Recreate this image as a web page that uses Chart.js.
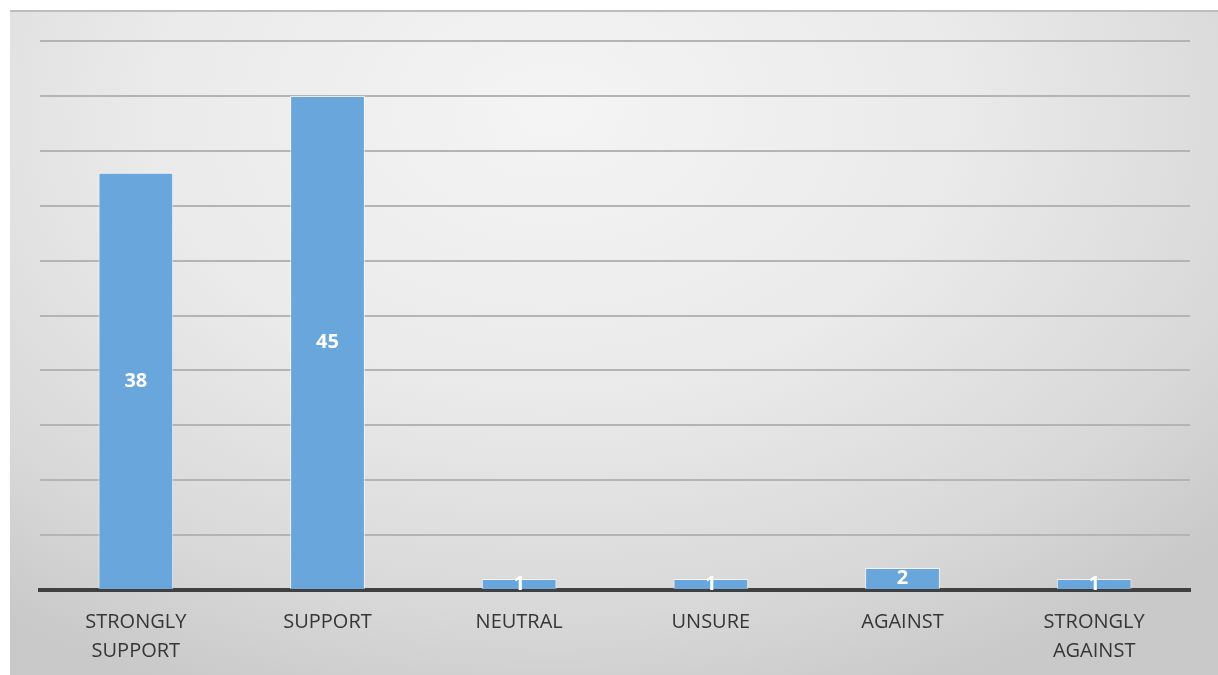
<!DOCTYPE html>
<html>
<head>
<meta charset="utf-8">
<script src="https://cdn.jsdelivr.net/npm/chart.js@4"></script>
<style>
  html, body { margin: 0; padding: 0; background: #fff; }
  #panel {
    position: absolute; left: 10px; top: 10px; width: 1208px; height: 665px; overflow: hidden;
    border-top: 2px solid #bdbdbd; box-sizing: border-box;
    background: radial-gradient(ellipse 75% 95% at 45% 15%, #f4f4f4 0%, #eaeaea 45%, #d8d8d8 80%, #c9c9c9 100%);
  }
  #panel canvas { position: absolute; left: 0; top: -2px; }
</style>
</head>
<body>
<div id="panel"><canvas id="chart" width="1208" height="672"></canvas></div>
<script>
/* survey responses */
var categories = [['STRONGLY', 'SUPPORT'], 'SUPPORT', 'NEUTRAL', 'UNSURE', 'AGAINST', ['STRONGLY', 'AGAINST']];
var counts = [38, 45, 1, 1, 2, 1];
var yMax = 50, yStep = 5;

/* value labels centred in each bar */
var centreLabels = {
  id: 'centreLabels',
  afterDatasetsDraw: function (chart) {
    var meta = chart.getDatasetMeta(0);
    var ctx = chart.ctx;
    ctx.save();
    ctx.fillStyle = '#ffffff';
    ctx.font = 'bold 20px "Open Sans", sans-serif';
    ctx.textAlign = 'center';
    ctx.textBaseline = 'middle';
    meta.data.forEach(function (bar, i) {
      ctx.fillText(String(counts[i]), bar.x, (bar.y + bar.base) / 2);
    });
    ctx.restore();
  }
};

Chart.defaults.font.family = '"Open Sans", sans-serif';

new Chart(document.getElementById('chart'), {
  type: 'bar',
  data: {
    labels: categories,
    datasets: [{
      data: counts,
      backgroundColor: '#69a6dc',
      borderColor: 'rgba(255,255,255,0.7)',
      borderWidth: 1,
      categoryPercentage: 0.39,
      barPercentage: 1
    }]
  },
  options: {
    responsive: false,
    animation: false,
    layout: { padding: { left: 30, right: 28, top: 31, bottom: 6 } },
    plugins: { legend: { display: false }, tooltip: { enabled: false } },
    scales: {
      x: {
        grid: { display: false },
        border: { display: true, color: '#404040', width: 4 },
        ticks: { color: '#363636', font: { size: 20, lineHeight: 1.45 }, padding: 10, maxRotation: 0 }
      },
      y: {
        min: 0, max: yMax,
        ticks: { display: false, stepSize: yStep },
        border: { display: false },
        grid: { color: '#b4b4b4', lineWidth: 2, drawTicks: false }
      }
    }
  },
  plugins: [centreLabels]
});
</script>
</body>
</html>
